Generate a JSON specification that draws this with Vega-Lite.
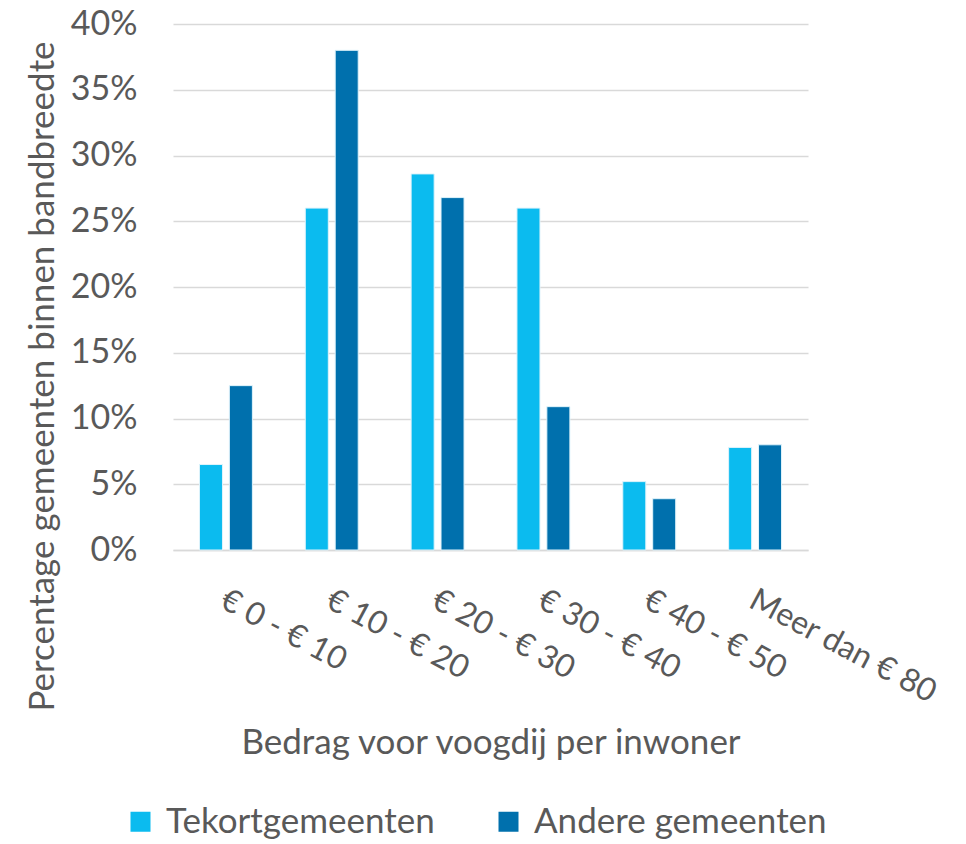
{
  "$schema": "https://vega.github.io/schema/vega-lite/v6.json",
  "width": 635,
  "height": 526,
  "autosize": {"type": "none"},
  "padding": {"left": 173, "top": 24, "right": 158, "bottom": 294},
  "background": "white",
  "config": {
    "font": "Lato",
    "view": {"stroke": null},
    "axis": {"labelColor": "#595959", "titleColor": "#595959", "titleFontWeight": "normal"},
    "legend": {"labelColor": "#595959"}
  },
  "data": {
    "values": [
      {"cat": "€ 0 - € 10", "groep": "Tekortgemeenten", "pct": 0.065},
      {"cat": "€ 0 - € 10", "groep": "Andere gemeenten", "pct": 0.125},
      {"cat": "€ 10 - € 20", "groep": "Tekortgemeenten", "pct": 0.26},
      {"cat": "€ 10 - € 20", "groep": "Andere gemeenten", "pct": 0.38},
      {"cat": "€ 20 - € 30", "groep": "Tekortgemeenten", "pct": 0.286},
      {"cat": "€ 20 - € 30", "groep": "Andere gemeenten", "pct": 0.268},
      {"cat": "€ 30 - € 40", "groep": "Tekortgemeenten", "pct": 0.26},
      {"cat": "€ 30 - € 40", "groep": "Andere gemeenten", "pct": 0.109},
      {"cat": "€ 40 - € 50", "groep": "Tekortgemeenten", "pct": 0.052},
      {"cat": "€ 40 - € 50", "groep": "Andere gemeenten", "pct": 0.039},
      {"cat": "Meer dan € 80", "groep": "Tekortgemeenten", "pct": 0.078},
      {"cat": "Meer dan € 80", "groep": "Andere gemeenten", "pct": 0.08}
    ]
  },
  "mark": {"type": "bar", "stroke": "#dff3fb", "strokeWidth": 1},
  "encoding": {
    "x": {
      "field": "cat", "type": "nominal", "sort": null,
      "scale": {"paddingInner": 0.5, "paddingOuter": 0.25},
      "axis": {
        "title": "Bedrag voor voogdij per inwoner",
        "titleFontSize": 35, "titleY": 192, "titleBaseline": "middle",
        "labelAngle": 28, "labelAlign": "left", "labelBaseline": "top",
        "labelFontSize": 32, "labelPadding": 34, "labelOffset": 4, "labelLimit": 0,
        "ticks": false, "domainColor": "#d9d9d9", "domainWidth": 1.5,
        "labelOverlap": false
      }
    },
    "xOffset": {"field": "groep", "type": "nominal", "sort": ["Tekortgemeenten", "Andere gemeenten"], "scale": {"paddingInner": 0.23, "paddingOuter": 0}},
    "y": {
      "field": "pct", "type": "quantitative",
      "scale": {"domain": [0, 0.4]},
      "axis": {
        "format": ".0%", "values": [0, 0.05, 0.1, 0.15, 0.2, 0.25, 0.3, 0.35, 0.4],
        "title": "Percentage gemeenten binnen bandbreedte",
        "titleFontSize": 35, "titleX": -131, "titleY": 352, "titleBaseline": "middle", "titleAlign": "center", "titleAngle": -90, "titleLimit": 0,
        "labelFontSize": 34, "labelPadding": 36,
        "ticks": false, "domain": false,
        "gridColor": "#d9d9d9", "gridWidth": 1.5
      }
    },
    "color": {
      "field": "groep", "type": "nominal",
      "sort": ["Tekortgemeenten", "Andere gemeenten"],
      "scale": {"domain": ["Tekortgemeenten", "Andere gemeenten"], "range": ["#0BBBEF", "#0070AD"]},
      "legend": {
        "title": null, "orient": "none", "direction": "horizontal",
        "legendX": -50, "legendY": 780,
        "symbolType": "square", "symbolSize": 400, "symbolStrokeWidth": 0,
        "labelFontSize": 35, "columnPadding": 56, "labelOffset": 8, "labelLimit": 0
      }
    }
  }
}
